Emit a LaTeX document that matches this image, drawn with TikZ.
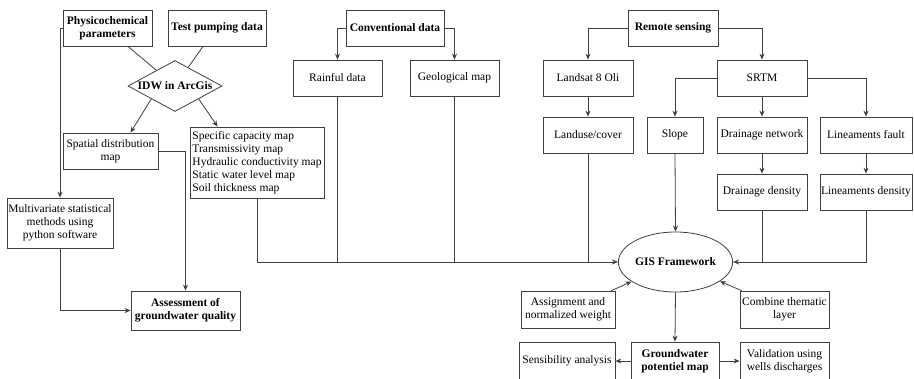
\documentclass[tikz,border=0pt]{standalone}
\usepackage{fontspec}
\setmainfont{Liberation Serif}
\usetikzlibrary{shapes.geometric,arrows.meta,calc}
\newcommand\fsz{\fontsize{11.5}{13}\selectfont}
\definecolor{linec}{gray}{0.25}
\tikzset{
  box/.style={draw=linec, line width=0.8pt, rectangle, inner sep=1pt, align=center, font=\fsz},
  bbox/.style={box, font=\fsz\bfseries},
  arr/.style={draw=linec, line width=0.8pt, -{Stealth[length=6pt,width=5pt]}},
  ln/.style={draw=linec, line width=0.8pt},
}
\begin{document}
\begin{tikzpicture}[x=1pt,y=-1pt]
\useasboundingbox (0,0) rectangle (914,378);

% groundwater quality branch
\node[bbox, minimum width=89pt, minimum height=36pt] (phys) at (107.5,28) {Physicochemical\\parameters};
\node[bbox, minimum width=98pt, minimum height=36pt] (test) at (217,28) {Test pumping data};
\node[draw=linec, line width=0.8pt, diamond, aspect=1.84, inner sep=0pt, minimum width=94pt, minimum height=51pt, font=\fsz\bfseries] (idw) at (175,86) {IDW in ArcGis};
\node[box, minimum width=95pt, minimum height=36pt] (spat) at (110.5,151) {Spatial distribution\\map};
\node[box, minimum width=134pt, minimum height=71pt, inner sep=1pt, align=left] (spec) at (257,162.5)
  {Specific capacity map\\Transmissivity map\\Hydraulic conductivity map\\Static water level map\\Soil thickness map};
\node[box, minimum width=106pt, minimum height=50pt] (multi) at (60,223) {Multivariate statistical\\methods using\\python software};
\node[bbox, minimum width=109pt, minimum height=39pt] (assess) at (185.5,310.5) {Assessment of\\groundwater quality};

% conventional data
\node[bbox, minimum width=98pt, minimum height=36pt] (conv) at (395,28) {Conventional data};
\node[box, minimum width=89pt, minimum height=36pt] (rain) at (337.5,78) {Rainful data};
\node[box, minimum width=89pt, minimum height=36pt] (geo) at (454.5,78) {Geological map};

% remote sensing
\node[bbox, minimum width=90pt, minimum height=36pt] (rs) at (673,28) {Remote sensing};
\node[box, minimum width=90pt, minimum height=36pt] (land) at (588,78) {Landsat 8 Oli};
\node[box, minimum width=90pt, minimum height=36pt] (srtm) at (762,78) {SRTM};
\node[box, minimum width=90pt, minimum height=36pt] (landuse) at (588,135) {Landuse/cover};
\node[box, minimum width=56pt, minimum height=36pt] (slope) at (675,135) {Slope};
\node[box, minimum width=90pt, minimum height=36pt] (dnet) at (762,135) {Drainage network};
\node[box, minimum width=92pt, minimum height=36pt] (lfault) at (866,135) {Lineaments fault};
\node[box, minimum width=90pt, minimum height=36pt] (ddens) at (762,192) {Drainage density};
\node[box, minimum width=92pt, minimum height=36pt] (ldens) at (866,192) {Lineaments density};

% GIS part
\node[draw=linec, line width=0.8pt, ellipse, inner sep=0pt, minimum width=89pt, minimum height=60pt, font=\fsz\bfseries] (gis) at (675.5,262) {GIS Framework};
\node[box, minimum width=94pt, minimum height=37pt] (assign) at (568,309.5) {Assignment and\\normalized weight};
\node[box, minimum width=89pt, minimum height=37pt] (comb) at (784.5,309.5) {Combine thematic\\layer};
\node[bbox, minimum width=88pt, minimum height=38pt] (gw) at (675,361) {Groundwater\\potentiel map};
\node[box, minimum width=96pt, minimum height=38pt] (sens) at (567,361) {Sensibility analysis};
\node[box, minimum width=89pt, minimum height=38pt] (valid) at (784.5,361) {Validation using\\wells discharges};

% connectors: quality branch
\draw[arr] (phys.west) -| (multi.north);
\draw[ln] ($(phys.south)+(20.5,0)$) -- (idw);
\draw[ln] ($(test.south)+(-14,0)$) -- (idw);
\draw[arr] (idw.south west) -- ($(spat.north)+(20,0)$);
\draw[arr] (idw.south east) -- ($(spec.north west)+(28,0)$);
\draw[arr] (spat.east) -| (assess.north);
\draw[arr] (multi.south) |- (assess.west);

% connectors: into GIS framework
\draw[arr] ($(spec.south west)+(68,0)$) |- (gis.west);
\draw[arr] (conv.west) -| (rain.north);
\draw[arr] (conv.east) -| (geo.north);
\draw[ln] (rain.south) -- (rain.south |- gis.west);
\draw[ln] (geo.south) -- (geo.south |- gis.west);
\draw[ln] (landuse.south) -- (landuse.south |- gis.west);
\draw[arr] (rs.west) -| (land.north);
\draw[arr] (rs.east) -| (srtm.north);
\draw[arr] (land.south) -- (landuse.north);
\draw[arr] (srtm.west) -| (slope.north);
\draw[arr] (srtm.south) -- (dnet.north);
\draw[arr] (srtm.east) -| (lfault.north);
\draw[arr] (dnet.south) -- (ddens.north);
\draw[arr] (lfault.south) -- (ldens.north);
\draw[arr] (slope.south) -- (gis.north);
\draw[arr] (ldens.south) |- (gis.east);
\draw[ln] (ddens.south) -- (ddens.south |- gis.east);
\draw[arr] ($(assign.north east)+(-4,0)$) -- (gis);
\draw[arr] ($(comb.north west)+(2,0)$) -- (gis);

% outputs
\draw[arr] (gis.south) -- (gw.north);
\draw[arr] (gw.west) -- (sens.east);
\draw[arr] (gw.east) -- (valid.west);
\end{tikzpicture}
\end{document}
